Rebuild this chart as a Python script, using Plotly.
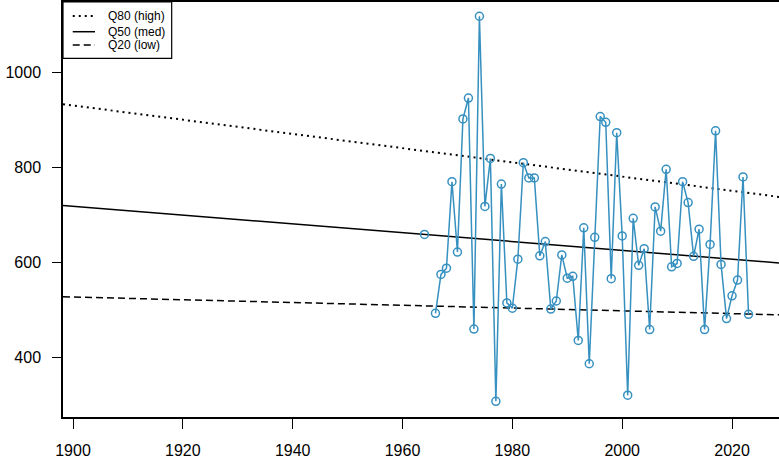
import plotly.graph_objects as go

# Observed annual values (1965 missing)
years = list(range(1964, 2024))
values = [659, None, 493, 575, 588, 770, 622, 902, 946, 460,
          1118, 718, 819, 308, 765, 515, 504, 607, 810, 778,
          778, 614, 644, 502, 519, 616, 567, 571, 436, 673,
          387, 653, 907, 895, 566, 873, 656, 321, 693, 594,
          629, 459, 717, 666, 796, 591, 598, 770, 726, 613,
          670, 459, 638, 877, 596, 482, 530, 563, 780, 491]

# Trend (quantile) lines, evaluated at the ends of the x range
trend_years = [1898.18, 2028.55]
q80 = [933, 738]
q50 = [720, 599]
q20 = [528, 490]

x_range = [1898.18, 2028.55]
y_range = [275, 1148]
x_ticks = [1900, 1920, 1940, 1960, 1980, 2000, 2020]
y_ticks = [400, 600, 800, 1000]

legend_labels = ["Q80 (high)", "Q50 (med)", "Q20 (low)"]
legend_dashes = ["2px,4px", "solid", "7px,4px"]
legend_widths = [2, 1.5, 1.5]
legend_rows = [0.9662, 0.9284, 0.8963]

blue = "#3690C0"
fig = go.Figure()

fig.add_trace(go.Scatter(x=trend_years, y=q80, mode="lines", name=legend_labels[0],
                         showlegend=False,
                         line=dict(color="black", width=legend_widths[0], dash=legend_dashes[0])))
fig.add_trace(go.Scatter(x=trend_years, y=q50, mode="lines", name=legend_labels[1],
                         showlegend=False,
                         line=dict(color="black", width=legend_widths[1], dash=legend_dashes[1])))
fig.add_trace(go.Scatter(x=trend_years, y=q20, mode="lines", name=legend_labels[2],
                         showlegend=False,
                         line=dict(color="black", width=legend_widths[2], dash=legend_dashes[2])))
fig.add_trace(go.Scatter(x=years, y=values, mode="lines+markers", showlegend=False,
                         connectgaps=False,
                         line=dict(color=blue, width=1.5),
                         marker=dict(symbol="circle-open", size=8,
                                     line=dict(color=blue, width=1.5))))

# R-style legend box in the top-left corner of the plot region
shapes = [dict(type="rect", xref="paper", yref="paper", x0=0, x1=0.1518, y0=0.8642, y1=1,
               line=dict(color="black", width=1.2), fillcolor="white", layer="above")]
annotations = []
for lab, dsh, w, ry in zip(legend_labels, legend_dashes, legend_widths, legend_rows):
    shapes.append(dict(type="line", xref="paper", yref="paper", x0=0.0136, x1=0.0447,
                       y0=ry, y1=ry, line=dict(color="black", width=w, dash=dsh),
                       layer="above"))
    annotations.append(dict(xref="paper", yref="paper", x=0.0601, y=ry, text=lab,
                            showarrow=False, xanchor="left", yanchor="middle",
                            font=dict(size=12, color="black")))

fig.update_layout(
    width=779, height=465,
    margin=dict(l=63, r=0, t=2, b=48),
    paper_bgcolor="white", plot_bgcolor="white",
    font=dict(family="Liberation Sans, Arial, sans-serif", size=16, color="black"),
    showlegend=False,
    shapes=shapes, annotations=annotations,
    xaxis=dict(range=x_range, tickvals=x_ticks, showgrid=False, zeroline=False,
               showline=True, linecolor="black", linewidth=1.5, mirror=True,
               ticks="outside", ticklen=10, tickwidth=1.2, tickcolor="black",
               ticklabelstandoff=8),
    yaxis=dict(range=y_range, tickvals=y_ticks, showgrid=False, zeroline=False,
               showline=True, linecolor="black", linewidth=1.5,
               ticks="outside", ticklen=9, tickwidth=1.2, tickcolor="black",
               ticklabelstandoff=8),
)

fig.write_html("out.html",
               config={"displayModeBar": False},
               post_script="document.body.style.margin='0';document.body.style.padding='0';"
                           "document.documentElement.style.overflow='hidden';")
